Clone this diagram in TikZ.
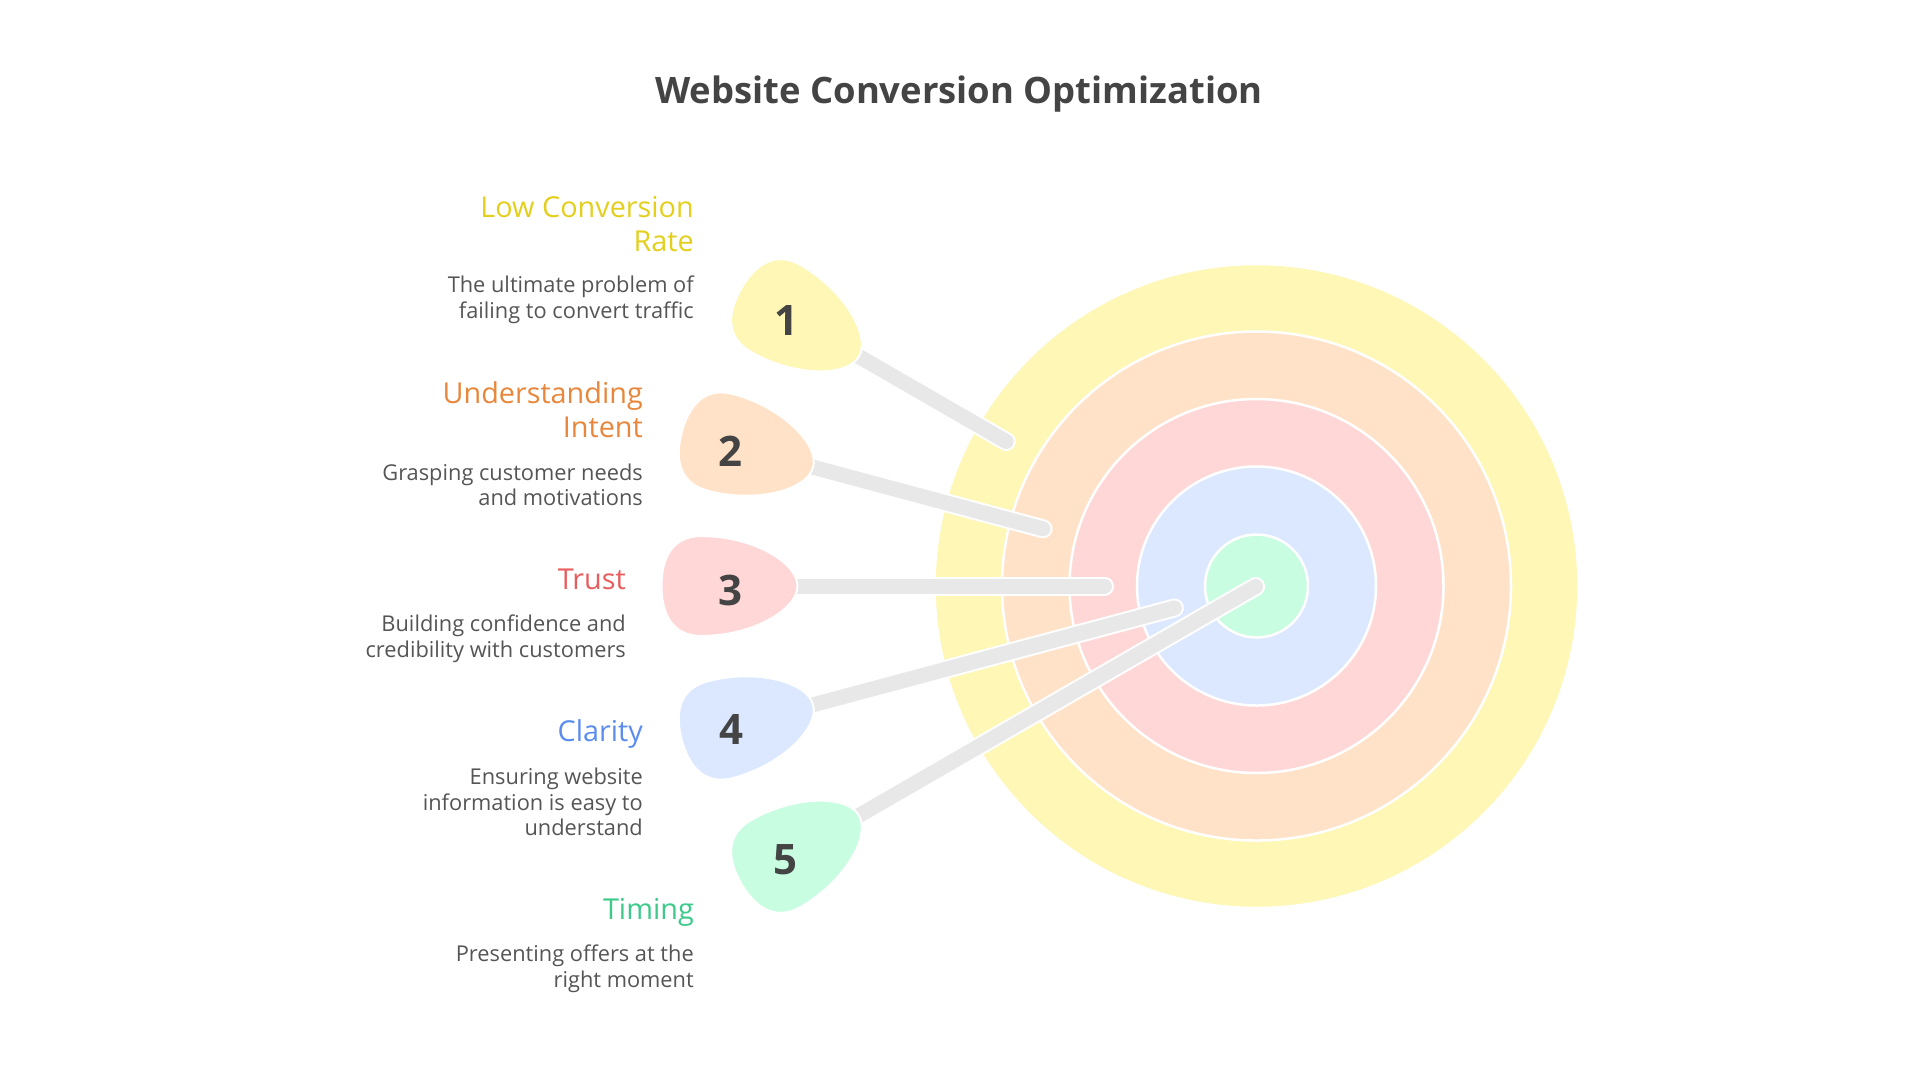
\documentclass[tikz,border=0pt]{standalone}
\usepackage{fontspec}
\setmainfont{Open Sans}
\usetikzlibrary{arrows,shapes}
\pgfdeclarelayer{background}
\pgfsetlayers{background,main}
\definecolor{yellowfill}{HTML}{FEF7B5}
\definecolor{orangefill}{HTML}{FFE2C8}
\definecolor{pinkfill}{HTML}{FFD7D7}
\definecolor{bluefill}{HTML}{DBE8FF}
\definecolor{greenfill}{HTML}{C9FDE2}
\definecolor{yellowtext}{HTML}{E3CF1C}
\definecolor{orangetext}{HTML}{E8873C}
\definecolor{pinktext}{HTML}{E85D5D}
\definecolor{bluetext}{HTML}{5B8DEF}
\definecolor{greentext}{HTML}{3CC98A}
\definecolor{darktext}{HTML}{444444}
\definecolor{desctext}{HTML}{555555}
\definecolor{linegray}{HTML}{E8E8E8}
\tikzstyle{ring}=[circle,draw=white,line width=2.5pt,inner sep=0pt]
\tikzstyle{number}=[inner sep=0pt,text=darktext,font=\fontsize{42}{42}\selectfont\bfseries]
\tikzstyle{petal}=[draw=white,line width=2pt]
\tikzstyle{shaft}=[draw=white,line width=2pt,double=linegray,double distance=15pt,line cap=round]
\tikzstyle{heading}=[inner sep=0pt,anchor=east,align=right,font=\fontsize{28.8}{34}\selectfont]
\tikzstyle{blurb}=[inner sep=0pt,anchor=east,align=right,text=desctext,font=\fontsize{21.8}{25.5}\selectfont]

\begin{document}
\begin{tikzpicture}[x=1pt,y=1pt]
    \useasboundingbox (0,0) rectangle (1920,-1080);
    \coordinate (target) at (1256.5,-586);
    \node[inner sep=0pt,text=darktext,font=\fontsize{36.4}{42}\selectfont\bfseries] (title) at (959,-94) {Website Conversion Optimization};
    % First we draw the rings, connectors and petals behind the text
    \begin{pgfonlayer}{background}
    \foreach \name/\rad/\col in {ring1/322/yellowfill, ring2/254.5/orangefill, ring3/187/pinkfill, ring4/119.5/bluefill, ring5/51.5/greenfill}
        \node[ring,fill=\col,minimum size=2*\rad pt] (\name) at (target) {};
    \foreach \i/\ang/\len/\col in {1/-30/289/yellowfill, 2/-15/221/orangefill, 3/0/152/pinkfill, 4/15/85/bluefill, 5/30/1/greenfill}{
        \begin{scope}[shift={(target)},rotate=\ang]
            \coordinate (base\i) at (-500,0);
            \coordinate (tip\i) at (-\len,0);
        \end{scope}
        \path[shaft] (base\i) -- (tip\i);
        \path[petal,fill=\col,shift={(target)},rotate=\ang] (-459,0)
            .. controls (-459,24) and (-505,50) .. (-555,50)
            .. controls (-585,50) and (-595,27) .. (-595,0)
            .. controls (-595,-27) and (-585,-50) .. (-555,-50)
            .. controls (-505,-50) and (-459,-24) .. (-459,0) -- cycle;
    }
    \end{pgfonlayer}
    % Then the numbers
    \foreach \pos/\name in {{(786,-320)/1}, {(730,-451)/2}, {(730,-590)/3}, {(731,-729)/4}, {(785,-860)/5}}
        \node[number] (num\name) at \pos {\name};
    % Headings and their descriptions
    \foreach \pos/\name/\col/\txt in {{(694,-224)/head1/yellowtext/{Low Conversion\\Rate}}, {(643,-410)/head2/orangetext/{Understanding\\Intent}}, {(626,-579)/head3/pinktext/{Trust}}, {(643,-734)/head4/bluetext/{Clarity}}, {(694,-912)/head5/greentext/{Timing}}}
        \node[heading,text=\col] (\name) at \pos {\txt};
    \foreach \pos/\name/\txt in {{(694,-300)/blurb1/{The ultimate problem of\\failing to convert traffic}}, {(643,-485)/blurb2/{Grasping customer needs\\and motivations}}, {(626,-639)/blurb3/{Building confidence and\\credibility with customers}}, {(643,-802)/blurb4/{Ensuring website\\information is easy to\\understand}}, {(694,-969)/blurb5/{Presenting offers at the\\right moment}}}
        \node[blurb] (\name) at \pos {\txt};
\end{tikzpicture}
\end{document}
